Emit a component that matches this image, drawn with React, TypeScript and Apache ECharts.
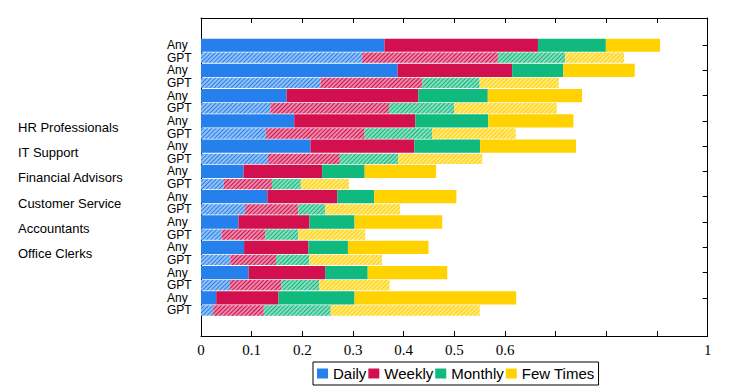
import React, { useEffect, useRef } from "react";
import * as echarts from "echarts";

const groups = ["", "", "", "HR Professionals", "IT Support", "Financial Advisors", "Customer Service", "Accountants", "Office Clerks", "", ""];
const variants = ["Any", "GPT"];
const frequencies = ["Daily", "Weekly", "Monthly", "Few Times"];
const hiddenTickLabels = [0.7, 0.8, 0.9];

const anyDaily = [0.362, 0.388, 0.169, 0.184, 0.216, 0.084, 0.131, 0.074, 0.085, 0.094, 0.030];
const anyWeekly = [0.303, 0.226, 0.260, 0.239, 0.205, 0.155, 0.138, 0.140, 0.127, 0.151, 0.123];
const anyMonthly = [0.134, 0.101, 0.137, 0.144, 0.130, 0.084, 0.073, 0.089, 0.078, 0.084, 0.150];
const anyFew = [0.107, 0.141, 0.186, 0.168, 0.189, 0.141, 0.162, 0.173, 0.159, 0.157, 0.319];

const gptDaily = [0.318, 0.236, 0.137, 0.128, 0.132, 0.045, 0.087, 0.041, 0.058, 0.057, 0.024];
const gptWeekly = [0.268, 0.201, 0.234, 0.195, 0.142, 0.095, 0.105, 0.086, 0.090, 0.102, 0.100];
const gptMonthly = [0.133, 0.113, 0.129, 0.133, 0.115, 0.057, 0.053, 0.065, 0.066, 0.074, 0.132];
const gptFew = [0.116, 0.156, 0.202, 0.165, 0.166, 0.095, 0.148, 0.132, 0.143, 0.139, 0.294];

const solidColors = ["#2680eb", "#d2104f", "#10b97d", "#ffd200"];
const lightColors = ["#92bff5", "#e887a7", "#87dcbe", "#ffe87f"];

const anyData = [anyDaily, anyWeekly, anyMonthly, anyFew];
const gptData = [gptDaily, gptWeekly, gptMonthly, gptFew];

export default function App() {
  const ref = useRef<HTMLDivElement>(null);
  useEffect(() => {
    document.body.style.margin = "0";
    const chart = echarts.init(ref.current!, null, { renderer: "svg" });
    const rows: string[] = [];
    groups.forEach(() => variants.forEach((v) => rows.push(v)));
    const sans = "'Liberation Sans', Arial, sans-serif";
    const serif = "'Liberation Serif', 'Times New Roman', serif";

    const series: any[] = [];
    frequencies.forEach((name, k) => {
      series.push({
        name,
        type: "bar",
        xAxisIndex: 0,
        yAxisIndex: 0,
        stack: "any",
        barWidth: 13.3,
        itemStyle: { color: solidColors[k] },
        data: rows.map((_, i) => (i % 2 === 0 ? anyData[k][i / 2] : "-")),
      });
    });
    frequencies.forEach((name, k) => {
      series.push({
        name,
        type: "bar",
        xAxisIndex: 0,
        yAxisIndex: 1,
        stack: "gpt",
        barWidth: 10.3,
        itemStyle: {
          color: lightColors[k],
          decal: {
            symbol: "rect",
            symbolSize: 1,
            dashArrayX: [1, 0],
            dashArrayY: [1, 2],
            rotation: -Math.PI / 4,
            color: solidColors[k],
          },
        },
        data: rows.map((_, i) => (i % 2 === 1 ? gptData[k][(i - 1) / 2] : "-")),
      });
    });

    const frameLine = { show: true, onZero: false, lineStyle: { color: "#000", width: 1 } };

    chart.setOption({
      animation: false,
      backgroundColor: "#fff",
      legend: {
        data: frequencies,
        left: 313,
        top: 362,
        icon: "rect",
        itemWidth: 11,
        itemHeight: 10,
        itemGap: 2,
        padding: [4, 4, 4, 4],
        borderColor: "#000",
        borderWidth: 1,
        borderRadius: 0,
        textStyle: { fontFamily: sans, fontSize: 15, color: "#000" },
      },
      grid: [
        { left: 201, right: 42.3, top: 38.7, height: 278.1, containLabel: false },
        { left: 201, right: 42.3, top: 18, bottom: 56, containLabel: false },
      ],
      xAxis: [
        { type: "value", gridIndex: 0, min: 0, max: 1, show: false },
        {
          type: "value",
          gridIndex: 1,
          position: "bottom",
          min: 0,
          max: 1,
          interval: 0.1,
          axisLine: frameLine,
          axisTick: { show: true, inside: true, length: 5, lineStyle: { color: "#000" } },
          splitLine: { show: false },
          axisLabel: {
            margin: 6,
            fontFamily: serif,
            fontSize: 15,
            color: "#000",
            formatter: (v: number) => {
              const r = Math.round(v * 10) / 10;
              if (hiddenTickLabels.includes(r)) return "";
              if (r === 0) return "0";
              if (r === 1) return "1";
              return r.toFixed(1);
            },
          },
        },
        {
          type: "value",
          gridIndex: 1,
          position: "top",
          min: 0,
          max: 1,
          interval: 0.1,
          axisLine: frameLine,
          axisTick: { show: true, inside: true, length: 5, lineStyle: { color: "#000" } },
          splitLine: { show: false },
          axisLabel: { show: false },
        },
      ],
      yAxis: [
        {
          type: "category",
          gridIndex: 0,
          inverse: true,
          data: rows,
          position: "left",
          axisLine: { show: false },
          axisTick: { show: false },
          axisLabel: {
            margin: 34,
            align: "left",
            fontFamily: sans,
            fontSize: 12,
            lineHeight: 12,
            color: "#000",
            interval: 0,
          },
        },
        {
          type: "category",
          gridIndex: 0,
          inverse: true,
          data: rows,
          position: "right",
          axisLine: { show: false },
          axisTick: { show: true, inside: true, length: 5, alignWithLabel: true, lineStyle: { color: "#000" } },
          axisLabel: { show: false },
        },
        {
          type: "category",
          gridIndex: 0,
          inverse: true,
          data: groups,
          position: "left",
          axisLine: { show: false },
          axisTick: { show: false },
          axisLabel: {
            margin: 183,
            align: "left",
            fontFamily: sans,
            fontSize: 13,
            color: "#000",
            interval: 0,
          },
        },
        {
          type: "value",
          gridIndex: 1,
          position: "left",
          min: 0,
          max: 1,
          axisLine: frameLine,
          axisTick: { show: false },
          axisLabel: { show: false },
          splitLine: { show: false },
        },
        {
          type: "value",
          gridIndex: 1,
          position: "right",
          min: 0,
          max: 1,
          axisLine: frameLine,
          axisTick: { show: false },
          axisLabel: { show: false },
          splitLine: { show: false },
        },
      ],
      series,
    });
    return () => chart.dispose();
  }, []);
  return <div ref={ref} style={{ width: 750, height: 392 }} />;
}
